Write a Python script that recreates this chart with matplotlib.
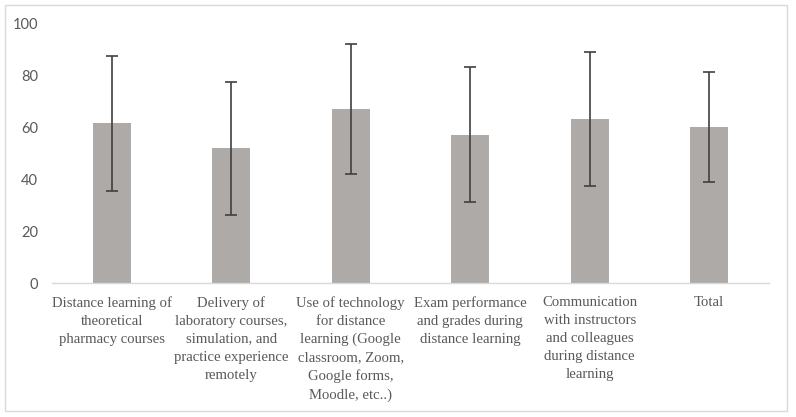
import matplotlib.pyplot as plt
from matplotlib.patches import Rectangle

categories = [
    'Distance learning of\ntheoretical\npharmacy courses',
    'Delivery of\nlaboratory courses,\nsimulation, and\npractice experience\nremotely',
    'Use of technology\nfor distance\nlearning (Google\nclassroom, Zoom,\nGoogle forms,\nMoodle, etc..)',
    'Exam performance\nand grades during\ndistance learning',
    'Communication\nwith instructors\nand colleagues\nduring distance\nlearning',
    'Total',
]
means = [61.5, 51.9, 67.2, 57.1, 63.2, 60.2]
errors = [26.0, 25.6, 25.0, 26.0, 25.6, 21.2]
yticks = [0, 20, 40, 60, 80, 100]

fig = plt.figure(figsize=(7.96, 4.17), dpi=100)
ax = fig.add_axes([52 / 796, 1 - 283.3 / 417, 717 / 796, 260 / 417])

x = list(range(len(categories)))
ax.bar(x, means, width=0.315, color='#adaaa8', zorder=2)
ax.errorbar(x, means, yerr=errors, fmt='none', ecolor='#404040',
            elinewidth=1.2, capsize=4, capthick=1.2, zorder=3)

ax.set_xlim(-0.5, 5.5)
ax.set_ylim(0, 100)
ax.set_yticks(yticks)
ax.set_xticks(x)
ax.set_xticklabels(categories, family='Liberation Serif', fontsize=10.6,
                   color='#595959', linespacing=1.5, va='top')
for lbl in ax.get_yticklabels():
    lbl.set_family('Lato')
    lbl.set_fontsize(10.5)
    lbl.set_color('#595959')

for s in ['top', 'right', 'left']:
    ax.spines[s].set_visible(False)
ax.spines['bottom'].set_color('#d9d9d9')
ax.spines['bottom'].set_linewidth(1)
ax.tick_params(axis='both', length=0)
ax.tick_params(axis='y', pad=10)
ax.tick_params(axis='x', pad=9)

# light outer frame like the chart area border
fig.patches.append(Rectangle((5 / 796, 1 - 411 / 417), 782 / 796, 406 / 417,
                             transform=fig.transFigure, fill=False,
                             edgecolor='#d9d9d9', linewidth=1))

fig.savefig('out.png', dpi=100)
